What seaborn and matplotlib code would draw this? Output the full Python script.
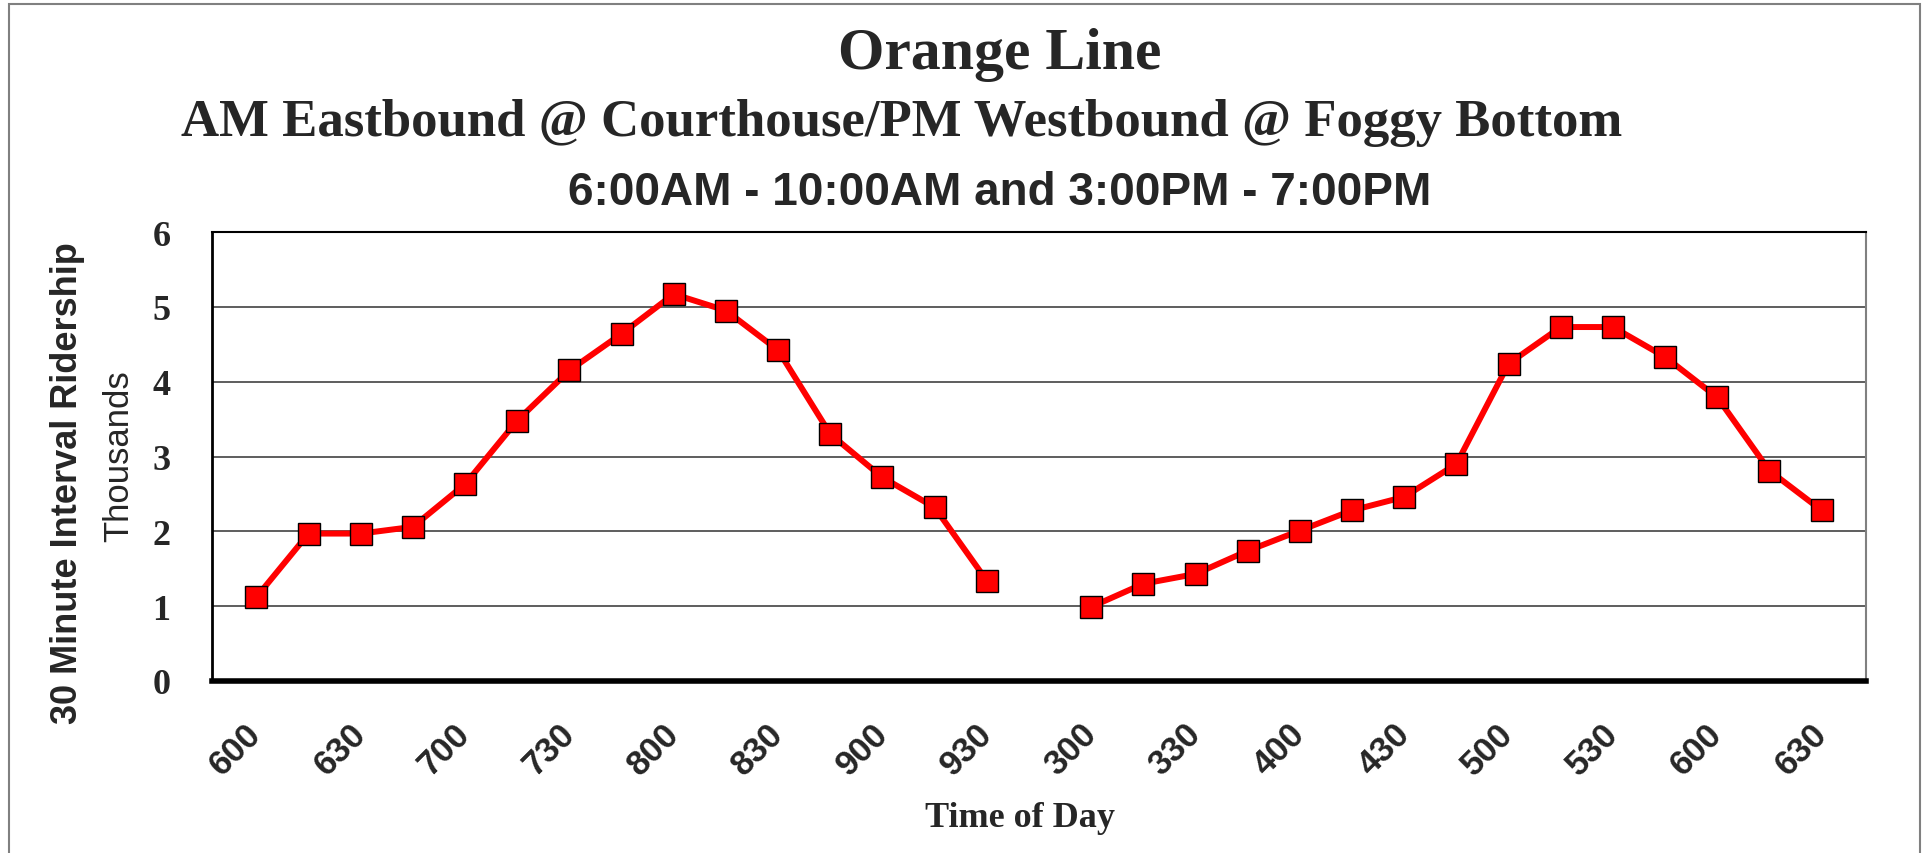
import numpy as np
import pandas as pd
import matplotlib
matplotlib.use("Agg")
import matplotlib.pyplot as plt
from matplotlib.patches import Rectangle
import seaborn as sns

# half-hour interval labels and ridership (thousands)
am_times = ["600", "615", "630", "645", "700", "715", "730", "745",
            "800", "815", "830", "845", "900", "915", "930"]
am_riders = [1.12, 1.97, 1.97, 2.06, 2.63, 3.48, 4.15, 4.64,
             5.17, 4.95, 4.42, 3.30, 2.72, 2.32, 1.34]

pm_times = ["300", "315", "330", "345", "400", "415", "430", "445",
            "500", "515", "530", "545", "600", "615", "630"]
pm_riders = [0.99, 1.30, 1.43, 1.74, 2.01, 2.28, 2.46, 2.90,
             4.24, 4.73, 4.73, 4.33, 3.79, 2.81, 2.28]

y_ticks = [0, 1, 2, 3, 4, 5, 6]


def main():
    # one empty category between the AM and PM blocks
    labels = am_times + [""] + pm_times
    rows = []
    for i, (t, v) in enumerate(zip(am_times, am_riders)):
        rows.append({"pos": i, "time": t, "riders": v, "period": "AM"})
    off = len(am_times) + 1
    for i, (t, v) in enumerate(zip(pm_times, pm_riders)):
        rows.append({"pos": off + i, "time": t, "riders": v, "period": "PM"})
    df = pd.DataFrame(rows)

    sns.set_style("white")
    serif = ["Liberation Serif", "DejaVu Serif"]
    sans = ["Liberation Sans", "DejaVu Sans"]

    W, H = 1931, 854
    fig = plt.figure(figsize=(W / 100, H / 100), dpi=100)
    ax = fig.add_axes([212 / W, 1 - 682 / H, (1866 - 212) / W, (682 - 233) / H])

    sns.lineplot(data=df, x="pos", y="riders", units="period", estimator=None,
                 color="#FF0000", lw=4.3, marker="s", markersize=16.5,
                 markerfacecolor="#FF0000", markeredgecolor="black",
                 markeredgewidth=1.0, ax=ax, legend=False)

    ax.set_xlim(-0.85, len(labels) - 1 + 0.85)
    ax.set_ylim(0, 6)
    ax.set_yticks(y_ticks)
    ax.set_yticklabels([str(t) for t in y_ticks], family=serif,
                       fontweight="bold", fontsize=26)
    tick_pos = [i for i in range(len(labels)) if i % 2 == 0 and labels[i]]
    ax.set_xticks(tick_pos)
    ax.set_xticklabels([labels[i] for i in tick_pos], family=sans,
                       fontweight="bold", fontsize=25, rotation=45,
                       ha="right", va="center", rotation_mode="anchor")
    ax.tick_params(axis="x", length=0, pad=34)
    ax.tick_params(axis="y", length=0, pad=30)

    ax.yaxis.grid(True, color="#505050", lw=1.3)
    ax.xaxis.grid(False)
    ax.set_axisbelow(True)
    ax.set_xlabel("")
    ax.set_ylabel("")

    ax.spines["left"].set_color("black")
    ax.spines["left"].set_linewidth(2.0)
    ax.spines["bottom"].set_color("black")
    ax.spines["bottom"].set_linewidth(4.0)
    ax.spines["top"].set_color("black")
    ax.spines["top"].set_linewidth(1.5)
    ax.spines["right"].set_color("#808080")
    ax.spines["right"].set_linewidth(1.5)

    # titles
    fig.text(1000 / W, 1 - 55 / H, "Orange Line", family=serif,
             fontweight="bold", fontsize=43, ha="center", va="center")
    fig.text(902 / W, 1 - 123 / H,
             "AM Eastbound @ Courthouse/PM Westbound @ Foggy Bottom",
             family=serif, fontweight="bold", fontsize=38,
             ha="center", va="center")
    fig.text(1000 / W, 1 - 193 / H, "6:00AM - 10:00AM and 3:00PM - 7:00PM",
             family=sans, fontweight="bold", fontsize=33,
             ha="center", va="center")

    # axis labels
    fig.text(68 / W, 1 - 483 / H, "30 Minute Interval Ridership",
             family=sans, fontweight="bold", fontsize=26, rotation=90,
             ha="center", va="center")
    fig.text(119 / W, 1 - 456 / H, "Thousands", family=sans,
             fontsize=25, rotation=90, ha="center", va="center")
    fig.text(1020 / W, 1 - 819 / H, "Time of Day", family=serif,
             fontweight="bold", fontsize=26, ha="center", va="center")

    # outer chart border
    fig.patches.append(Rectangle((9 / W, -0.05), (1920 - 9) / W,
                                 1.05 - 5 / H, transform=fig.transFigure,
                                 fill=False, edgecolor="#808080", lw=1.5))

    fig.savefig("out.png", dpi=100)


if __name__ == "__main__":
    main()
